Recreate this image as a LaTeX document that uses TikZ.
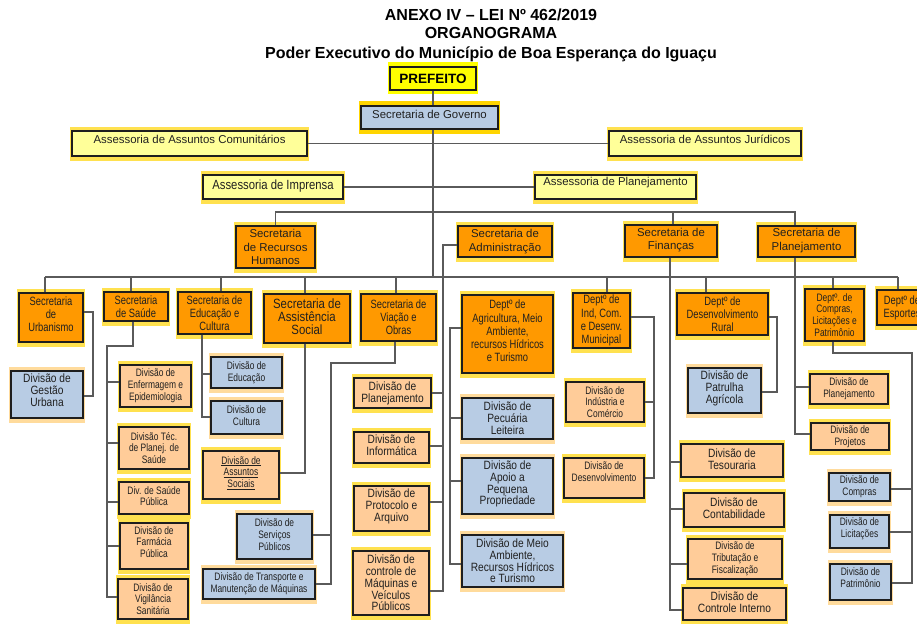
\documentclass[tikz,border=0pt]{standalone}
\usepackage{fontspec}
\setmainfont{Liberation Sans}
\newfontfamily\fcA[FakeStretch=0.85]{Liberation Sans}
\newfontfamily\fcB[FakeStretch=0.78]{Liberation Sans}
\usetikzlibrary{calc}
\definecolor{cOr}{HTML}{FF9900}
\definecolor{cPe}{HTML}{FFCC99}
\definecolor{cBl}{HTML}{B8CCE4}
\definecolor{cLY}{HTML}{FFFF99}
\definecolor{cYe}{HTML}{FFFF00}
\definecolor{gY}{HTML}{FFE14F}
\definecolor{gB}{HTML}{FFDB9C}
\definecolor{gG}{HTML}{FFD500}
\definecolor{cBd}{HTML}{1E1E1E}
\definecolor{cLn}{HTML}{5A5A5A}
\definecolor{cTx}{HTML}{202020}
\tikzset{
  box/.style={draw=cBd, line width=1.1pt, inner sep=0pt, rectangle},
  kOr/.style={fill=cOr}, kOr-g/.style={fill=gY},
  kPe/.style={fill=cPe}, kPe-g/.style={fill=gY},
  kBl/.style={fill=cBl}, kBl-g/.style={fill=gB},
  kLY/.style={fill=cLY}, kLY-g/.style={fill=gY},
  kYe/.style={fill=cYe}, kYe-g/.style={fill=cYe},
  kGov/.style={fill=cBl}, kGov-g/.style={fill=gG},
  txt/.style={align=center, inner sep=0pt, text=cTx},
  ttl/.style={inner sep=0pt, text=black, font=\bfseries\fontsize{16}{19}\selectfont},
  tPref/.style={txt, text=black, font=\bfseries\fontsize{13.5}{15}\selectfont},
  tBig/.style={txt, font=\fontsize{11.4}{13.5}\selectfont},
  tImp/.style={txt, font=\fcA\fontsize{13.3}{15}\selectfont},
  tAS/.style={txt, font=\fcA\fontsize{13.4}{13}\selectfont},
  tSec/.style={txt, font=\fcB\fontsize{12}{13.2}\selectfont},
  tM/.style={txt, font=\fcA\fontsize{12}{11.8}\selectfont},
  tS/.style={txt, font=\fcB\fontsize{10.8}{11.8}\selectfont},
  conn/.style={draw=cLn, line width=1.4pt}
}
% name, x1, y1, x2, y2, kind, textstyle, dy, text
\newcommand\bx[9]{%
  \fill[#6-g] ({#2-2},{#3-4.5}) rectangle ({#4+2},{#5+4.5});
  \node[box,#6,minimum width={(#4-#2)*1pt},minimum height={(#5-#3)*1pt}] (#1) at ({(#2+#4)/2},{(#3+#5)/2}) {};
  \node[#7] at ($(#1.center)+(0,#8)$) {#9};
}
\begin{document}
\begin{tikzpicture}[x=1pt,y=-1pt]
\path[use as bounding box] (0,0) rectangle (917,623);
\clip (0,0) rectangle (917,623);
\fill[white] (0,0) rectangle (917,623);

% titles
\node[ttl, anchor=base] (t1) at (491,20.5) {ANEXO IV – LEI Nº 462/2019};
\node[ttl, anchor=base] (t2) at (491,39) {ORGANOGRAMA};
\node[ttl, anchor=base] (t3) at (491,58.5) {Poder Executivo do Município de Boa Esperança do Iguaçu};

% top level
\bx{pref}{390}{67}{476}{90}{kYe}{tPref}{0}{PREFEITO}
\bx{gov}{361}{106}{498}{129}{kGov}{tBig}{-3}{Secretaria de Governo}
\bx{acom}{72}{131}{307}{156}{kLY}{tBig}{-4}{Assessoria de Assuntos Comunitários}
\bx{ajur}{609}{131}{801}{156}{kLY}{tBig}{-4}{Assessoria de Assuntos Jurídicos}
\bx{aimp}{203}{175}{343}{199}{kLY}{tImp}{-1}{Assessoria de Imprensa}
\bx{apla}{535}{175}{696}{199}{kLY}{tBig}{-4}{Assessoria de Planejamento}
\bx{srh}{236}{226}{315}{268}{kOr}{tBig}{0}{Secretaria\\de Recursos\\Humanos}
\bx{sadm}{458}{226}{552}{257}{kOr}{tBig}{0}{Secretaria de\\Administração}
\bx{sfin}{625}{225}{717}{257}{kOr}{tBig}{-1}{Secretaria de\\Finanças}
\bx{splan}{758}{226}{855}{257}{kOr}{tBig}{-1}{Secretaria de\\Planejamento}

% second row
\bx{surb}{19}{293}{83}{342}{kOr}{tSec}{-3}{Secretaria\\de\\Urbanismo}
\bx{ssau}{104}{292}{168}{321}{kOr}{tSec}{0}{Secretaria\\de Saúde}
\bx{sedu}{178}{292}{251}{334}{kOr}{tSec}{0}{Secretaria de\\Educação e\\Cultura}
\bx{sass}{264}{294}{350}{343}{kOr}{tAS}{-2}{Secretaria de\\Assistência\\Social}
\bx{svia}{361}{294}{436}{341}{kOr}{tSec}{0}{Secretaria de\\Viação e\\Obras}
\bx{dagr}{462}{295}{553}{373}{kOr}{tSec}{-3}{Deptº de\\Agricultura, Meio\\Ambiente,\\recursos Hídricos\\e Turismo}
\bx{dind}{573}{293}{630}{348}{kOr}{tSec}{0}{Deptº de\\Ind, Com.\\e Desenv.\\Municipal}
\bx{drur}{677}{293}{768}{335}{kOr}{tSec}{0}{Deptº de\\Desenvolvimento\\Rural}
\bx{dcomp}{805}{289}{864}{341}{kOr}{tS}{0}{Deptº. de\\Compras,\\Licitações e\\Patrimônio}
\bx{desp}{877}{290}{927}{325}{kOr}{tSec}{0}{Deptº de\\Esportes}

% divisions
\bx{dges}{11}{371}{83}{418}{kBl}{tM}{-4}{Divisão de\\Gestão\\Urbana}
\bx{denf}{120}{365}{191}{407}{kPe}{tS}{0}{Divisão de\\Enfermagem e\\Epidemiologia}
\bx{dtec}{119}{427}{189}{469}{kPe}{tS}{0}{Divisão Téc.\\de Planej. de\\Saúde}
\bx{dsp}{119}{482}{189}{514}{kPe}{tS}{-2}{Div. de Saúde\\Pública}
\bx{dfar}{120}{523}{188}{569}{kPe}{tS}{-4}{Divisão de\\Farmácia\\Pública}
\bx{dvig}{118}{579}{188}{619}{kPe}{tS}{0}{Divisão de\\Vigilância\\Sanitária}
\bx{dedu}{211}{357}{282}{388}{kBl}{tS}{0}{Divisão de\\Educação}
\bx{dcul}{211}{401}{282}{434}{kBl}{tS}{-2}{Divisão de\\Cultura}
\bx{dass}{203}{451}{279}{499}{kPe}{tS}{-2}{\underline{Divisão de}\\\underline{Assuntos}\\\underline{Sociais}}
\bx{dser}{237}{514}{312}{559}{kBl}{tS}{-2}{Divisão de\\Serviços\\Públicos}
\bx{dtra}{203}{569}{315}{599}{kBl}{tS}{0}{Divisão de Transporte e\\Manutenção de Máquinas}
\bx{dpla}{354}{378}{431}{408}{kPe}{tM}{0}{Divisão de\\Planejamento}
\bx{dinf}{354}{432}{429}{463}{kPe}{tM}{-2}{Divisão de\\Informática}
\bx{dpro}{354}{486}{429}{531}{kPe}{tM}{-2}{Divisão de\\Protocolo e\\Arquivo}
\bx{dctm}{353}{551}{429}{615}{kPe}{tM}{0}{Divisão de\\controle de\\Máquinas e\\Veículos\\Públicos}
\bx{dpec}{462}{398}{553}{439}{kBl}{tM}{0}{Divisão de\\Pecuária\\Leiteira}
\bx{dapo}{462}{458}{553}{514}{kBl}{tM}{-2}{Divisão de\\Apoio a\\Pequena\\Propriedade}
\bx{dmei}{462}{535}{563}{587}{kBl}{tM}{0}{Divisão de Meio\\Ambiente,\\Recursos Hídricos\\e Turismo}
\bx{dinc}{566}{382}{644}{422}{kPe}{tS}{0}{Divisão de\\Indústria e\\Comércio}
\bx{ddes}{564}{458}{644}{498}{kPe}{tS}{-6}{Divisão de\\Desenvolvimento}
\bx{dpatr}{688}{368}{761}{413}{kBl}{tM}{-2}{Divisão de\\Patrulha\\Agrícola}
\bx{dtes}{681}{444}{783}{477}{kPe}{tM}{-1}{Divisão de\\Tesouraria}
\bx{dcon}{684}{493}{784}{527}{kPe}{tM}{-2}{Divisão de\\Contabilidade}
\bx{dtri}{688}{539}{782}{579}{kPe}{tS}{0}{Divisão de\\Tributação e\\Fiscalização}
\bx{dctl}{683}{588}{786}{620}{kPe}{tM}{-2}{Divisão de\\Controle Interno}
\bx{dpl2}{810}{374}{888}{404}{kPe}{tS}{0}{Divisão de\\Planejamento}
\bx{dproj}{811}{423}{889}{450}{kPe}{tS}{0}{Divisão de\\Projetos}
\bx{dcpr}{829}{473}{890}{501}{kBl}{tS}{0}{Divisão de\\Compras}
\bx{dlic}{830}{515}{889}{548}{kBl}{tS}{-3}{Divisão de\\Licitações}
\bx{dpat}{830}{564}{891}{600}{kBl}{tS}{-4}{Divisão de\\Patrimônio}

% ---- connectors ----
\coordinate (gv) at (433,277);
\draw[conn] (pref.south) -- (pref.south |- gov.north);
\draw[conn] (pref.south |- gov.south) -- (gv);
\draw[conn] (acom.east) -- (ajur.west);
\draw[conn] (aimp.east) -- (apla.west);
\coordinate (b212) at (795,212);
\draw[conn] (srh.north) |- (b212) -- (splan.north -| b212);
\draw[conn] (sfin.north -| 673,0) -- (673,212);
% main bus
\coordinate (bL) at (45,277);
\coordinate (bR) at (898,277);
\draw[conn] (bL) -- (bR);
\foreach \n/\x in {surb/45, ssau/131, sedu/221, sass/305, svia/396, dind/607, drur/706, dcomp/833, desp/898}
  \draw[conn] (\n.north -| \x,0) -- (\x,277);
% Financas
\draw[conn] (sfin.south -| 670,0) -- (670,610) -- (dctl.west |- 0,610);
\draw[conn] (670,462) -- (dtes.west |- 0,462);
\draw[conn] (670,509) -- (dcon.west |- 0,509);
\draw[conn] (670,564) -- (dtri.west |- 0,564);
% Planejamento
\draw[conn] (splan.south -| 795,0) -- (795,434) -- (dproj.west |- 0,434);
\draw[conn] (795,387) -- (dpl2.west |- 0,387);
% Compras
\draw[conn] (dcomp.south -| 833,0) -- (833,353) -- (912,353) -- (912,583) -- (dpat.east |- 0,583);
\draw[conn] (912,489) -- (dcpr.east |- 0,489);
\draw[conn] (912,532) -- (dlic.east |- 0,532);
% Desenvolvimento Rural
\draw[conn] (drur.east |- 0,317) -- (777,317) -- (777,392) -- (dpatr.east |- 0,392);
% Ind Com
\draw[conn] (dind.east |- 0,317) -- (654,317) -- (654,478) -- (ddes.east |- 0,478);
\draw[conn] (654,402) -- (dinc.east |- 0,402);
% Administracao
\draw[conn] (sadm.west |- 0,245) -- (443,245) -- (443,591) -- (dctm.east |- 0,591);
\draw[conn] (443,393) -- (dpla.east |- 0,393);
\draw[conn] (443,446) -- (dinf.east |- 0,446);
\draw[conn] (443,502) -- (dpro.east |- 0,502);
% Agricultura
\draw[conn] (dagr.west |- 0,328) -- (450,328) -- (450,564) -- (dmei.west |- 0,564);
\draw[conn] (450,418) -- (dpec.west |- 0,418);
\draw[conn] (450,481) -- (dapo.west |- 0,481);
% Viacao
\draw[conn] (svia.south -| 395,0) -- (395,363) -- (331,363) -- (331,584) -- (dtra.east |- 0,584);
\draw[conn] (331,535) -- (dser.east |- 0,535);
% Assistencia
\draw[conn] (sass.south -| 305,0) -- (305,473) -- (dass.east |- 0,473);
% Educacao
\draw[conn] (sedu.south -| 202,0) -- (202,417) -- (dcul.west |- 0,417);
\draw[conn] (202,374) -- (dedu.west |- 0,374);
% Saude
\draw[conn] (ssau.south -| 133,0) -- (133,346) -- (107,346) -- (107,597) -- (dvig.west |- 0,597);
\draw[conn] (107,382) -- (denf.west |- 0,382);
\draw[conn] (107,443) -- (dtec.west |- 0,443);
\draw[conn] (107,502) -- (dsp.west |- 0,502);
\draw[conn] (107,546) -- (dfar.west |- 0,546);
% Urbanismo
\draw[conn] (surb.east |- 0,312) -- (93,312) -- (93,396) -- (dges.east |- 0,396);
\end{tikzpicture}
\end{document}
